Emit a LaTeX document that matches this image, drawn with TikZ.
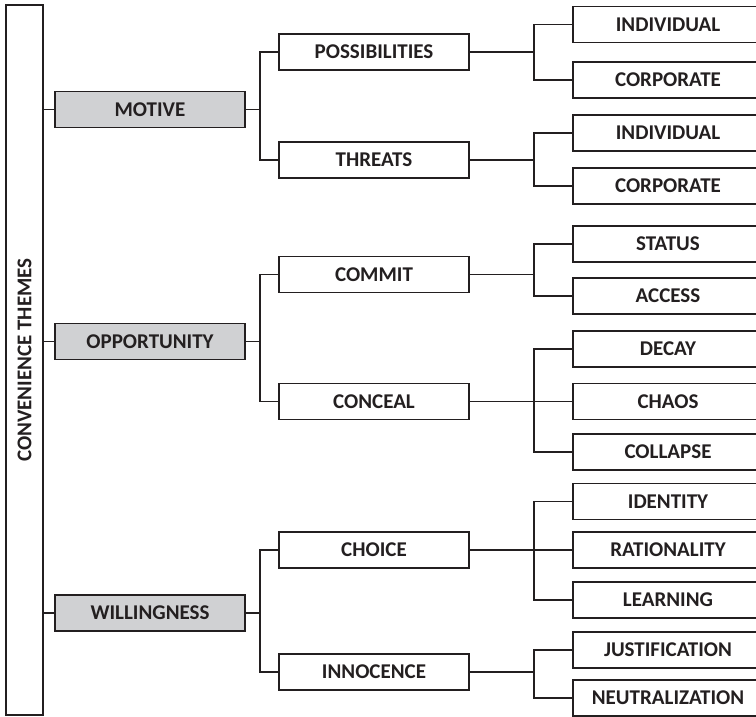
\documentclass[tikz,border=0pt]{standalone}
\usepackage{fontspec}
\setmainfont{Carlito}
\definecolor{themegray}{RGB}{208,209,211}
\definecolor{inkline}{RGB}{35,31,32}
\begin{document}
\begin{tikzpicture}[x=1pt,y=-1pt,
  box/.style={draw=inkline,line width=1.6pt,rectangle,minimum width=190pt,minimum height=36pt,
    inner sep=0pt,font=\fontsize{21}{25}\selectfont\bfseries,text=inkline},
  theme/.style={box,fill=themegray},
  link/.style={draw=inkline,line width=1.5pt}]
\useasboundingbox (0,0) rectangle (756,716);
\clip (0,0) rectangle (756,716);

% root column
\node[draw=inkline,line width=1.6pt,minimum width=37pt,minimum height=710pt,inner sep=0pt] (root) at (24.5,360) {};
\node[rotate=90,font=\fontsize{21}{25}\selectfont\bfseries,text=inkline] (roottxt) at (24.5,360) {CONVENIENCE THEMES};

% first level
\node[theme] (motive) at (150,109.5) {MOTIVE};
\node[theme] (opp) at (150,341.5) {OPPORTUNITY};
\node[theme] (will) at (150,613) {WILLINGNESS};

% second level
\node[box] (poss) at (374,52) {POSSIBILITIES};
\node[box] (threat) at (374,160) {THREATS};
\node[box] (commit) at (374,274.5) {COMMIT};
\node[box] (conceal) at (374,401.5) {CONCEAL};
\node[box] (choice) at (374,550) {CHOICE};
\node[box] (innoc) at (374,672) {INNOCENCE};

% third level
\node[box] (ind1) at (668,24.5) {INDIVIDUAL};
\node[box] (corp1) at (668,80) {CORPORATE};
\node[box] (ind2) at (668,133) {INDIVIDUAL};
\node[box] (corp2) at (668,186) {CORPORATE};
\node[box] (status) at (668,244) {STATUS};
\node[box] (access) at (668,296) {ACCESS};
\node[box] (decay) at (668,349) {DECAY};
\node[box] (chaos) at (668,401.5) {CHAOS};
\node[box] (collapse) at (668,452) {COLLAPSE};
\node[box] (identity) at (668,501.5) {IDENTITY};
\node[box] (ration) at (668,550) {RATIONALITY};
\node[box] (learn) at (668,600) {LEARNING};
\node[box] (justif) at (668,650) {JUSTIFICATION};
\node[box] (neutral) at (668,698) {NEUTRALIZATION};

% bracket columns
\coordinate (bA) at (260,0);
\coordinate (bB) at (534,0);

% root to themes
\foreach \t in {motive,opp,will}
  \draw[link] (\t.west) -- (\t.west -| root.east);

% themes to second level
\foreach \t/\a/\b in {motive/poss/threat, opp/commit/conceal, will/choice/innoc}{
  \draw[link] (\t.east) -- (\t.east -| bA);
  \draw[link] (\a.west) -- (\a.west -| bA) -- (\b.west -| bA) -- (\b.west);
}

% second level to third level (pairs)
\foreach \p/\a/\b in {poss/ind1/corp1, threat/ind2/corp2, commit/status/access, innoc/justif/neutral}{
  \draw[link] (\p.east) -- (\p.east -| bB);
  \draw[link] (\a.west) -- (\a.west -| bB) -- (\b.west -| bB) -- (\b.west);
}

% second level to third level (triples)
\foreach \p/\a/\m/\b in {conceal/decay/chaos/collapse, choice/identity/ration/learn}{
  \draw[link] (\p.east) -- (\m.west);
  \draw[link] (\a.west) -- (\a.west -| bB) -- (\b.west -| bB) -- (\b.west);
}
\end{tikzpicture}
\end{document}
